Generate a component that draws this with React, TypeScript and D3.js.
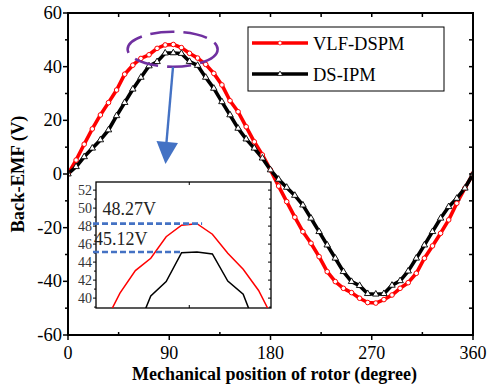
import React from "react";
import * as d3 from "d3";

const angles = [0, 7.2, 14.4, 21.6, 28.8, 36, 43.2, 50.4, 57.6, 64.8, 72, 79.2, 86.4, 93.6, 100.8, 108, 115.2, 122.4, 129.6, 136.8, 144, 151.2, 158.4, 165.6, 172.8, 180, 187.2, 194.4, 201.6, 208.8, 216, 223.2, 230.4, 237.6, 244.8, 252, 259.2, 266.4, 273.6, 280.8, 288, 295.2, 302.4, 309.6, 316.8, 324, 331.2, 338.4, 345.6, 352.8, 360];

const vlfDspm = [0, 5.2, 11.1, 16.8, 22.0, 26.6, 31.3, 37.2, 40.55, 43.06, 44.43, 46.82, 48.1, 48.27, 47.1, 44.98, 43.2, 40.85, 37.5, 33.2, 27.3, 23.2, 17.6, 12.0, 7.1, 1.5, -4.5, -10.3, -16.1, -21.5, -25.8, -30.8, -36.4, -40.1, -42.6, -44.2, -46.3, -47.9, -48.1, -46.8, -45.1, -42.6, -40.5, -37.0, -31.4, -26.8, -22.1, -17.1, -10.9, -5.3, 0];

const dsIpm = [0, 2.7, 6.4, 9.6, 12.7, 16.4, 21.7, 26.6, 31.6, 36.0, 40.25, 41.84, 45.05, 45.12, 44.9, 41.9, 40.44, 36.0, 31.9, 26.9, 22.0, 17.0, 13.0, 9.6, 5.9, 1.5, -2.0, -5.0, -8.0, -11.6, -16.5, -21.5, -26.5, -31.4, -36.4, -40.1, -41.6, -44.6, -44.8, -44.6, -41.5, -39.8, -36.2, -31.4, -26.5, -21.5, -16.5, -12.2, -9.1, -5.3, 0];

const seriesNames = ["VLF-DSPM", "DS-IPM"];
const xTicks = [0, 90, 180, 270, 360];
const xMinorTicks = [45, 135, 225, 315];
const yTicks = [-60, -40, -20, 0, 20, 40, 60];
const yMinorTicks = [-50, -30, -10, 10, 30, 50];
const insetYTicks = [40, 42, 44, 46, 48, 50, 52];
const insetYMinor = [39, 41, 43, 45, 47, 49, 51];
const peakLabels = ["48.27V", "45.12V"];
const peakValues = [48.27, 45.12];

const FONT = "'Liberation Serif', 'Times New Roman', serif";

export default function App() {
  const W = 488, H = 385;
  const x = d3.scaleLinear().domain([0, 360]).range([68, 473]);
  const y = d3.scaleLinear().domain([-60, 60]).range([335, 13]);
  const ix = d3.scaleLinear().domain([46.4, 128.2]).range([96, 271]);
  const iy = d3.scaleLinear().domain([38.9, 52.9]).range([308, 182]);

  const red = angles.map((a, i) => [a, vlfDspm[i]] as [number, number]);
  const blk = angles.map((a, i) => [a, dsIpm[i]] as [number, number]);
  const line = d3.line<[number, number]>().x(d => x(d[0])).y(d => y(d[1]));
  const iline = d3.line<[number, number]>().x(d => ix(d[0])).y(d => iy(d[1]));
  const tri = d3.symbol().type(d3.symbolTriangle).size(18)();

  const [x0, x1] = x.range();
  const [yb, yt] = y.range();
  const [ix0, ix1] = ix.range();
  const [iyb, iyt] = iy.range();

  return (
    <svg width={W} height={H} style={{ position: "absolute", left: 0, top: 0, background: "#fff" }} fontFamily={FONT}>
      <defs>
        <clipPath id="plotClip"><rect x={x0} y={yt} width={x1 - x0} height={yb - yt} /></clipPath>
        <clipPath id="insetClip"><rect x={ix0} y={iyt} width={ix1 - ix0} height={iyb - iyt} /></clipPath>
      </defs>
      <rect width={W} height={H} fill="#fff" />

      {/* main curves */}
      <g clipPath="url(#plotClip)">
        <path d={line(red) || ""} fill="none" stroke="#ff0000" strokeWidth={3.6} strokeLinejoin="round" />
        <path d={line(blk) || ""} fill="none" stroke="#000" strokeWidth={3.6} strokeLinejoin="round" />
        {red.map((d, i) => (
          <circle key={"r" + i} cx={x(d[0])} cy={y(d[1])} r={2.3} fill="#fff" stroke="#ff0000" strokeWidth={1} />
        ))}
        {blk.map((d, i) => (
          <path key={"b" + i} d={tri} transform={`translate(${x(d[0])},${y(d[1])})`} fill="#fff" stroke="#000" strokeWidth={0.9} />
        ))}
      </g>

      {/* frame */}
      <rect x={x0} y={yt} width={x1 - x0} height={yb - yt} fill="none" stroke="#000" strokeWidth={2} />
      {/* x ticks */}
      {xTicks.map(t => (
        <g key={"xt" + t}>
          <line x1={x(t)} x2={x(t)} y1={yb} y2={yb + 5} stroke="#000" strokeWidth={1.5} />
          <line x1={x(t)} x2={x(t)} y1={yt} y2={yt + 4} stroke="#000" strokeWidth={1.5} />
          <text x={x(t)} y={359} textAnchor="middle" fontSize={18}>{t}</text>
        </g>
      ))}
      {xMinorTicks.map(t => (
        <g key={"xm" + t}>
          <line x1={x(t)} x2={x(t)} y1={yb} y2={yb - 3} stroke="#000" strokeWidth={1.5} />
          <line x1={x(t)} x2={x(t)} y1={yt} y2={yt + 4} stroke="#000" strokeWidth={1.5} />
        </g>
      ))}
      {yTicks.map(t => (
        <g key={"yt" + t}>
          <line x1={x0 - 5} x2={x0} y1={y(t)} y2={y(t)} stroke="#000" strokeWidth={1.5} />
          <line x1={x1} x2={x1 - 4} y1={y(t)} y2={y(t)} stroke="#000" strokeWidth={1.5} />
          <text x={62} y={y(t) + 6} textAnchor="end" fontSize={18.5}>{t}</text>
        </g>
      ))}
      {yMinorTicks.map(t => (
        <g key={"ym" + t}>
          <line x1={x0 - 3} x2={x0} y1={y(t)} y2={y(t)} stroke="#000" strokeWidth={1.5} />
          <line x1={x1} x2={x1 - 4} y1={y(t)} y2={y(t)} stroke="#000" strokeWidth={1.5} />
        </g>
      ))}

      {/* axis titles */}
      <text x={(x0 + x1) / 2 + 4} y={380} textAnchor="middle" fontSize={18} fontWeight="bold">Mechanical position of rotor (degree)</text>
      <text transform={`translate(24,${y(0)}) rotate(-90)`} textAnchor="middle" fontSize={18.5} fontWeight="bold">Back-EMF (V)</text>

      {/* legend */}
      <rect x={248} y={27} width={196} height={64} fill="#fff" stroke="#000" strokeWidth={1} />
      <line x1={252} x2={308} y1={43} y2={43} stroke="#ff0000" strokeWidth={3.6} />
      <circle cx={280} cy={43} r={2} fill="#fff" stroke="#ff0000" strokeWidth={0.8} />
      <text x={313} y={49.5} fontSize={18.5}>{seriesNames[0]}</text>
      <line x1={252} x2={308} y1={74} y2={74} stroke="#000" strokeWidth={3.6} />
      <path d={d3.symbol().type(d3.symbolTriangle).size(12)() || ""} transform="translate(280,74)" fill="#fff" stroke="#000" strokeWidth={0.7} />
      <text x={313} y={80.5} fontSize={18.5}>{seriesNames[1]}</text>

      {/* purple dashed ellipse */}
      <ellipse cx={x(93)} cy={y(46.5)} rx={45} ry={17.5} fill="none" stroke="#7030a0" strokeWidth={2.6} strokeDasharray="24 9" />

      {/* blue arrow */}
      <line x1={173} y1={67} x2={166.5} y2={142} stroke="#4472c4" strokeWidth={2.4} />
      <path d="M156.5,141 L178,143 L165.5,164 Z" fill="#4472c4" />

      {/* inset */}
      <rect x={ix0} y={iyt} width={ix1 - ix0} height={iyb - iyt} fill="#fff" stroke="#000" strokeWidth={1.3} />
      <g clipPath="url(#insetClip)">
        <path d={iline(red) || ""} fill="none" stroke="#ff0000" strokeWidth={1.5} />
        <path d={iline(blk) || ""} fill="none" stroke="#000" strokeWidth={1.5} />
      </g>
      {insetYTicks.map(t => (
        <g key={"iy" + t}>
          <line x1={ix0 - 3} x2={ix0} y1={iy(t)} y2={iy(t)} stroke="#000" strokeWidth={1} />
          <line x1={ix1} x2={ix1 - 3} y1={iy(t)} y2={iy(t)} stroke="#000" strokeWidth={1} />
          <text x={92} y={iy(t) + 5} textAnchor="end" fontSize={14} fill="#333">{t}</text>
        </g>
      ))}
      {insetYMinor.map(t => (
        <g key={"iym" + t}>
          <line x1={ix0 - 2} x2={ix0} y1={iy(t)} y2={iy(t)} stroke="#000" strokeWidth={1} />
          <line x1={ix1} x2={ix1 - 2} y1={iy(t)} y2={iy(t)} stroke="#000" strokeWidth={1} />
        </g>
      ))}
      <line x1={ix(90)} x2={ix(90)} y1={iyt} y2={iyt + 3} stroke="#000" strokeWidth={1} />
      <line x1={ix(90)} x2={ix(90)} y1={iyb} y2={iyb - 3} stroke="#000" strokeWidth={1} />

      {/* peak annotation lines */}
      <line x1={93} x2={ix(96)} y1={iy(peakValues[0])} y2={iy(peakValues[0])} stroke="#4472c4" strokeWidth={2.6} strokeDasharray="6 3" />
      <line x1={93} x2={ix(86.4)} y1={iy(peakValues[1])} y2={iy(peakValues[1])} stroke="#4472c4" strokeWidth={2.6} strokeDasharray="6 3" />
      <text x={102.5} y={215} fontSize={18} fill="#222">{peakLabels[0]}</text>
      <text x={94} y={245} fontSize={18} fill="#222">{peakLabels[1]}</text>
    </svg>
  );
}
